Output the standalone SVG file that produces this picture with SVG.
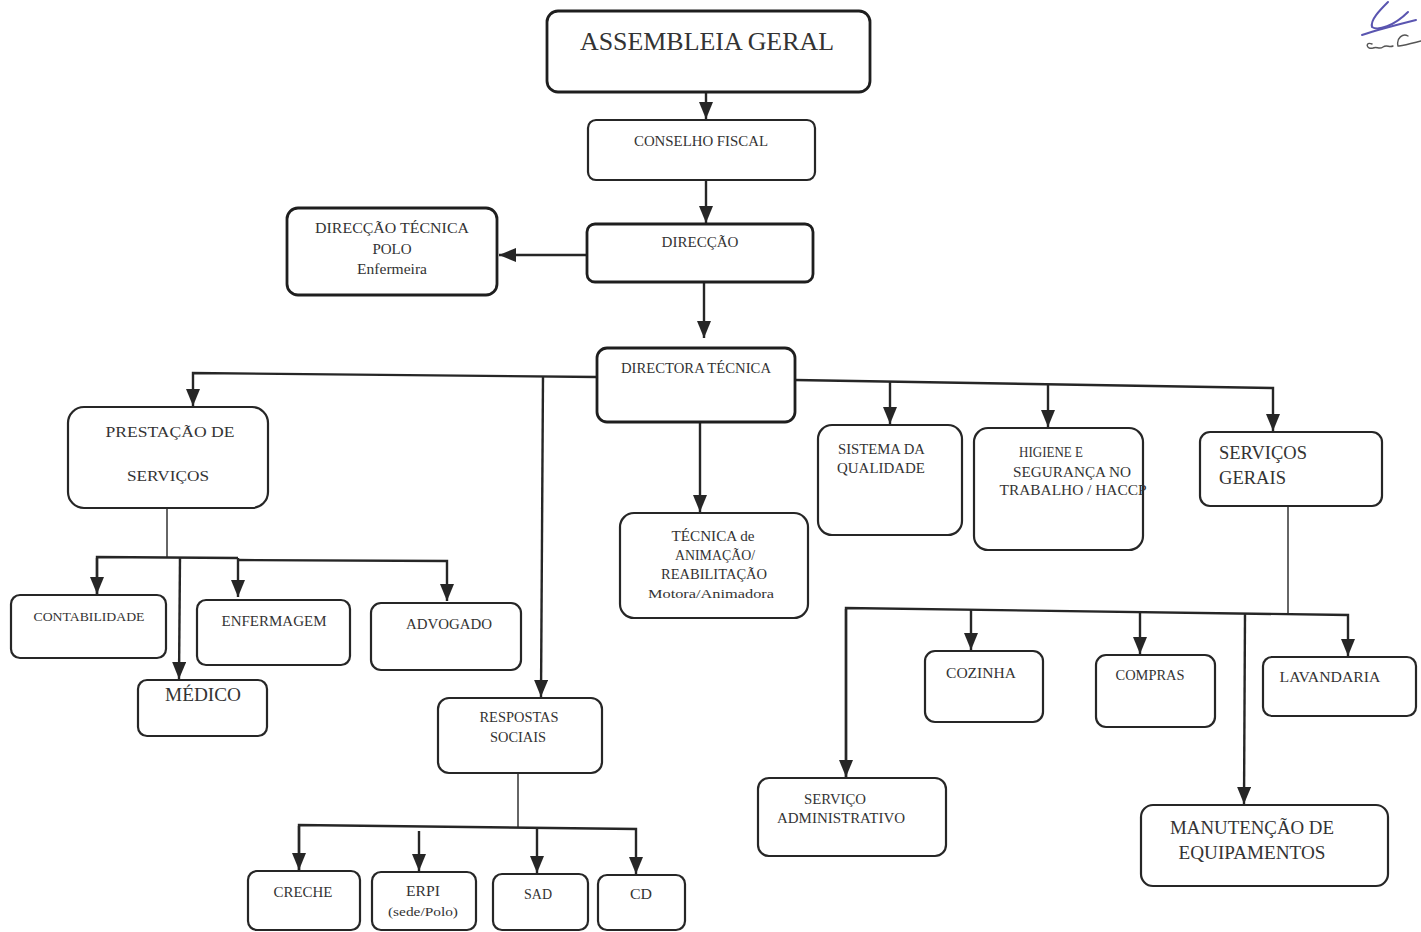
<svg xmlns="http://www.w3.org/2000/svg" width="1421" height="932" viewBox="0 0 1421 932">
<defs>
<marker id="ah" markerUnits="userSpaceOnUse" markerWidth="17" markerHeight="14" refX="17" refY="7" orient="auto" viewBox="0 0 17 14">
<path d="M0,0 L17,7 L0,14 Z" fill="#262626"/>
</marker>
<style>
.b{fill:#fff;stroke:#262626;stroke-width:2.2}
.bb{fill:#fff;stroke:#1e1e1e;stroke-width:2.8}
.t{font-family:"Liberation Serif","Times New Roman",serif;fill:#333}
.m{text-anchor:middle}
.c{fill:none;stroke:#262626;stroke-width:2.4}
.cl{fill:none;stroke:#333;stroke-width:1.5}
.sig{fill:none;stroke:#5a55b0;stroke-width:2;stroke-linecap:round}
</style>
</defs>
<rect width="1421" height="932" fill="#fff"/>

<g id="connectors">
<line class="c" x1="706" y1="93" x2="706" y2="119" marker-end="url(#ah)"/>
<line class="c" x1="706" y1="181" x2="706" y2="223" marker-end="url(#ah)"/>
<line class="c" x1="587" y1="255" x2="499" y2="255" marker-end="url(#ah)"/>
<line class="c" x1="704" y1="283" x2="704" y2="338" marker-end="url(#ah)"/>
<polyline class="c" points="597,377 193,373 193,406" marker-end="url(#ah)"/>
<line class="c" x1="543" y1="376" x2="541" y2="697" marker-end="url(#ah)"/>
<line class="c" x1="700" y1="423" x2="700" y2="512" marker-end="url(#ah)"/>
<polyline class="c" points="795,380 1273,388 1273,431" marker-end="url(#ah)"/>
<line class="c" x1="890" y1="382" x2="890" y2="424" marker-end="url(#ah)"/>
<line class="c" x1="1048" y1="385" x2="1048" y2="427" marker-end="url(#ah)"/>

<line class="cl" x1="167" y1="508" x2="167" y2="557"/>
<polyline class="c" points="97,595 97,557 238,558"/>
<line class="c" x1="97" y1="558" x2="97" y2="594" marker-end="url(#ah)"/>
<line class="c" x1="180" y1="557" x2="179" y2="679" marker-end="url(#ah)"/>
<polyline class="c" points="238,560 447,561 447,601" marker-end="url(#ah)"/>
<line class="c" x1="238" y1="558" x2="238" y2="597" marker-end="url(#ah)"/>

<line class="cl" x1="518" y1="773" x2="518" y2="827"/>
<polyline class="c" points="299,871 299,825 636,829 636,874" marker-end="url(#ah)"/>
<line class="c" x1="299" y1="826" x2="299" y2="870" marker-end="url(#ah)"/>
<line class="c" x1="419" y1="831" x2="419" y2="871" marker-end="url(#ah)"/>
<line class="c" x1="537" y1="828" x2="537" y2="873" marker-end="url(#ah)"/>

<line class="cl" x1="1288" y1="507" x2="1288" y2="614"/>
<polyline class="c" points="846,778 846,608 1348,615 1348,656" marker-end="url(#ah)"/>
<line class="c" x1="846" y1="609" x2="846" y2="777" marker-end="url(#ah)"/>
<line class="c" x1="971" y1="610" x2="971" y2="650" marker-end="url(#ah)"/>
<line class="c" x1="1140" y1="612" x2="1140" y2="654" marker-end="url(#ah)"/>
<line class="c" x1="1245" y1="613" x2="1244" y2="804" marker-end="url(#ah)"/>
</g>

<g id="assembleia"><rect class="bb" x="547" y="11" width="323" height="81" rx="11"/>
<text class="t m" x="707" y="50" style="font-size:26px" textLength="254" lengthAdjust="spacingAndGlyphs">ASSEMBLEIA GERAL</text></g>

<g id="conselho"><rect class="b" x="588" y="120" width="227" height="60" rx="8"/>
<text class="t m" x="701" y="146" style="font-size:14.5px" textLength="134" lengthAdjust="spacingAndGlyphs">CONSELHO FISCAL</text></g>

<g id="direccao"><rect class="bb" x="587" y="224" width="226" height="58" rx="8"/>
<text class="t m" x="700" y="247" style="font-size:14.5px" textLength="77" lengthAdjust="spacingAndGlyphs">DIRECÇÃO</text></g>

<g id="direccao-tecnica-polo"><rect class="bb" x="287" y="208" width="210" height="87" rx="11"/>
<text class="t m" x="392" y="233" style="font-size:15px" textLength="154" lengthAdjust="spacingAndGlyphs">DIRECÇÃO TÉCNICA</text>
<text class="t m" x="392" y="254" style="font-size:15px">POLO</text>
<text class="t m" x="392" y="274" style="font-size:15px" textLength="70" lengthAdjust="spacingAndGlyphs">Enfermeira</text></g>

<g id="directora"><rect class="bb" x="597" y="348" width="198" height="74" rx="10"/>
<text class="t m" x="696" y="373" style="font-size:14.5px" textLength="150" lengthAdjust="spacingAndGlyphs">DIRECTORA TÉCNICA</text></g>

<g id="prestacao"><rect class="b" x="68" y="407" width="200" height="101" rx="16"/>
<text class="t m" x="170" y="437" style="font-size:15.5px" textLength="129" lengthAdjust="spacingAndGlyphs">PRESTAÇÃO DE</text>
<text class="t m" x="168" y="481" style="font-size:15.5px" textLength="82" lengthAdjust="spacingAndGlyphs">SERVIÇOS</text></g>

<g id="contabilidade"><rect class="b" x="11" y="595" width="155" height="63" rx="9"/>
<text class="t m" x="89" y="621" style="font-size:13.5px" textLength="111" lengthAdjust="spacingAndGlyphs">CONTABILIDADE</text></g>

<g id="enfermagem"><rect class="b" x="197" y="600" width="153" height="65" rx="9"/>
<text class="t m" x="274" y="626" style="font-size:14.5px" textLength="105" lengthAdjust="spacingAndGlyphs">ENFERMAGEM</text></g>

<g id="advogado"><rect class="b" x="371" y="603" width="150" height="67" rx="10"/>
<text class="t m" x="449" y="629" style="font-size:14.5px" textLength="86" lengthAdjust="spacingAndGlyphs">ADVOGADO</text></g>

<g id="medico"><rect class="b" x="138" y="680" width="129" height="56" rx="9"/>
<text class="t m" x="203" y="701" style="font-size:18px" textLength="76" lengthAdjust="spacingAndGlyphs">MÉDICO</text></g>

<g id="respostas"><rect class="b" x="438" y="698" width="164" height="75" rx="11"/>
<text class="t m" x="519" y="722" style="font-size:14px" textLength="79" lengthAdjust="spacingAndGlyphs">RESPOSTAS</text>
<text class="t m" x="518" y="742" style="font-size:14px" textLength="56" lengthAdjust="spacingAndGlyphs">SOCIAIS</text></g>

<g id="creche"><rect class="b" x="248" y="871" width="112" height="59" rx="9"/>
<text class="t m" x="303" y="897" style="font-size:14.5px" textLength="59" lengthAdjust="spacingAndGlyphs">CRECHE</text></g>

<g id="erpi"><rect class="b" x="372" y="872" width="104" height="58" rx="9"/>
<text class="t m" x="423" y="896" style="font-size:14.5px" textLength="34" lengthAdjust="spacingAndGlyphs">ERPI</text>
<text class="t m" x="423" y="916" style="font-size:13px" textLength="70" lengthAdjust="spacingAndGlyphs">(sede/Polo)</text></g>

<g id="sad"><rect class="b" x="493" y="874" width="95" height="56" rx="9"/>
<text class="t m" x="538" y="899" style="font-size:14px" textLength="28" lengthAdjust="spacingAndGlyphs">SAD</text></g>

<g id="cd"><rect class="b" x="598" y="875" width="87" height="55" rx="9"/>
<text class="t m" x="641" y="899" style="font-size:14px" textLength="22" lengthAdjust="spacingAndGlyphs">CD</text></g>

<g id="tecnica-animacao"><rect class="b" x="620" y="513" width="188" height="105" rx="14"/>
<text class="t m" x="713" y="541" style="font-size:14.5px" textLength="83" lengthAdjust="spacingAndGlyphs">TÉCNICA de</text>
<text class="t m" x="715" y="560" style="font-size:14.5px" textLength="80" lengthAdjust="spacingAndGlyphs">ANIMAÇÃO/</text>
<text class="t m" x="714" y="579" style="font-size:14.5px" textLength="106" lengthAdjust="spacingAndGlyphs">REABILITAÇÃO</text>
<text class="t m" x="711" y="598" style="font-size:13.5px" textLength="126" lengthAdjust="spacingAndGlyphs">Motora/Animadora</text></g>

<g id="sistema-qualidade"><rect class="b" x="818" y="425" width="144" height="110" rx="14"/>
<text class="t" x="838" y="454" style="font-size:14.5px" textLength="87" lengthAdjust="spacingAndGlyphs">SISTEMA DA</text>
<text class="t" x="837" y="473" style="font-size:14.5px" textLength="88" lengthAdjust="spacingAndGlyphs">QUALIDADE</text></g>

<g id="higiene"><rect class="b" x="974" y="428" width="169" height="122" rx="14"/>
<text class="t m" x="1051" y="457" style="font-size:14.5px" textLength="64" lengthAdjust="spacingAndGlyphs">HIGIENE E</text>
<text class="t m" x="1072" y="477" style="font-size:14.5px" textLength="118" lengthAdjust="spacingAndGlyphs">SEGURANÇA NO</text>
<text class="t m" x="1073" y="495" style="font-size:14.5px" textLength="147" lengthAdjust="spacingAndGlyphs">TRABALHO / HACCP</text></g>

<g id="servicos-gerais"><rect class="b" x="1200" y="432" width="182" height="74" rx="10"/>
<text class="t" x="1219" y="459" style="font-size:18px" textLength="88" lengthAdjust="spacingAndGlyphs">SERVIÇOS</text>
<text class="t" x="1219" y="484" style="font-size:18px" textLength="67" lengthAdjust="spacingAndGlyphs">GERAIS</text></g>

<g id="cozinha"><rect class="b" x="925" y="651" width="118" height="71" rx="10"/>
<text class="t m" x="981" y="678" style="font-size:14.5px" textLength="70" lengthAdjust="spacingAndGlyphs">COZINHA</text></g>

<g id="compras"><rect class="b" x="1096" y="655" width="119" height="72" rx="10"/>
<text class="t m" x="1150" y="680" style="font-size:14.5px" textLength="69" lengthAdjust="spacingAndGlyphs">COMPRAS</text></g>

<g id="lavandaria"><rect class="b" x="1263" y="657" width="153" height="59" rx="9"/>
<text class="t m" x="1330" y="682" style="font-size:14.5px" textLength="101" lengthAdjust="spacingAndGlyphs">LAVANDARIA</text></g>

<g id="servico-administrativo"><rect class="b" x="758" y="778" width="188" height="78" rx="11"/>
<text class="t m" x="835" y="804" style="font-size:14.5px" textLength="62" lengthAdjust="spacingAndGlyphs">SERVIÇO</text>
<text class="t m" x="841" y="823" style="font-size:14.5px" textLength="128" lengthAdjust="spacingAndGlyphs">ADMINISTRATIVO</text></g>

<g id="manutencao"><rect class="b" x="1141" y="805" width="247" height="81" rx="12"/>
<text class="t m" x="1252" y="834" style="font-size:18px" textLength="164" lengthAdjust="spacingAndGlyphs">MANUTENÇÃO DE</text>
<text class="t m" x="1252" y="859" style="font-size:18px" textLength="147" lengthAdjust="spacingAndGlyphs">EQUIPAMENTOS</text></g>

<g id="signature">
<path class="sig" d="M1388,2 C1380,10 1370,20 1372,27 C1378,31 1394,26 1408,12"/>
<path class="sig" d="M1362,35 C1380,29 1400,24 1416,20" stroke-width="1.5"/>
<path d="M1372,44 C1365,41 1366,50 1373,48 C1377,46 1379,50 1383,47 C1387,44 1389,48 1393,46 M1398,46 C1396,38 1403,33 1408,36 M1399,46 C1406,45 1413,43 1421,41" fill="none" stroke="#555" stroke-width="1.4" stroke-linecap="round"/>
</g>
</svg>
